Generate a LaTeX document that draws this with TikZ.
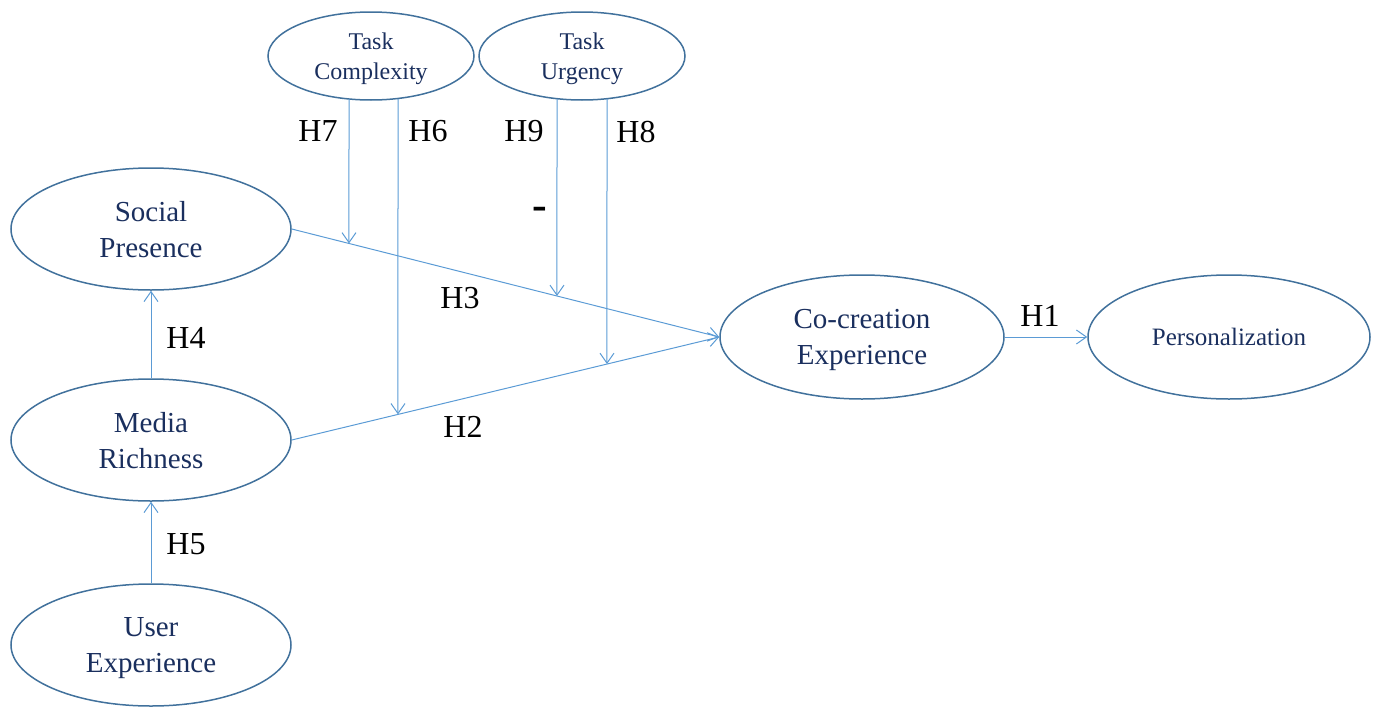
\documentclass[tikz,border=0pt]{standalone}
\usepackage{fontspec}
\setmainfont{Liberation Serif}
\usetikzlibrary{shapes.geometric,arrows.meta,calc}
\definecolor{ell}{HTML}{41719C}
\definecolor{arr}{HTML}{5B9BD5}
\definecolor{txt}{HTML}{1A2F5E}
\begin{document}
\begin{tikzpicture}[x=1pt,y=-1pt,
  var/.style={ellipse,draw=ell,line width=1.5pt,text=txt,align=center,inner sep=0pt,
    text depth=0pt,font=\fontsize{29}{36}\selectfont},
  bigvar/.style={var,minimum width=280,minimum height=122},
  smallvar/.style={var,minimum width=206,minimum height=88,font=\fontsize{24}{30}\selectfont},
  link/.style={draw=arr,line width=1pt,-{Straight Barb[length=10pt,width=14pt]}},
  hlab/.style={inner sep=0pt,font=\fontsize{32}{36}\selectfont,text=black}]
\useasboundingbox (0,0) rectangle (1382,707);
% variables
\node[smallvar] (tc) at (371,56) {Task\\Complexity};
\node[smallvar] (tu) at (582,56) {Task\\Urgency};
\node[bigvar] (sp) at (151,229) {Social\\Presence};
\node[bigvar] (mr) at (151,440) {Media\\Richness};
\node[bigvar] (ux) at (151,645) {User\\Experience};
\node[bigvar,minimum width=284,minimum height=124] (cc) at (862,337) {Co-creation\\Experience};
\node[bigvar,minimum width=282,minimum height=124,font=\fontsize{25}{30}\selectfont] (pe) at (1229,337) {Personalization};
% main paths
\draw[link] (sp.east) -- (cc.west);
\draw[link] (mr.east) -- (cc.west);
\draw[link] (cc.east) -- (pe.west);
\draw[link] (mr.north) -- (sp.south);
\draw[link] (ux.north) -- (mr.south);
% moderator lines
\coordinate (s7) at (349,99);
\coordinate (s6) at (398,99);
\coordinate (s9) at (557,99);
\coordinate (s8) at (607,99);
\coordinate (e7) at (intersection of sp.east--cc.west and s7--{349,500});
\coordinate (e6) at (intersection of mr.east--cc.west and s6--{398,500});
\coordinate (e9) at (intersection of sp.east--cc.west and s9--{557,500});
\coordinate (e8) at (intersection of mr.east--cc.west and s8--{607,500});
\draw[link] (s7) -- (e7);
\draw[link] (s6) -- (e6);
\draw[link] (s9) -- (e9);
\draw[link] (s8) -- (e8);
% labels
\node[hlab] (h7) at (318,131) {H7};
\node[hlab] (h6) at (428,131) {H6};
\node[hlab] (h9) at (524,131) {H9};
\node[hlab] (h8) at (636,132) {H8};
\node[hlab] (h3) at (460,298) {H3};
\node[hlab] (h2) at (463,427) {H2};
\node[hlab] (h4) at (186,338) {H4};
\node[hlab] (h5) at (186,544) {H5};
\node[hlab] (h1) at (1040,316) {H1};
\node[hlab,anchor=base,font=\fontsize{44}{44}\selectfont\bfseries] (neg) at (540,219) {-};
\end{tikzpicture}
\end{document}
